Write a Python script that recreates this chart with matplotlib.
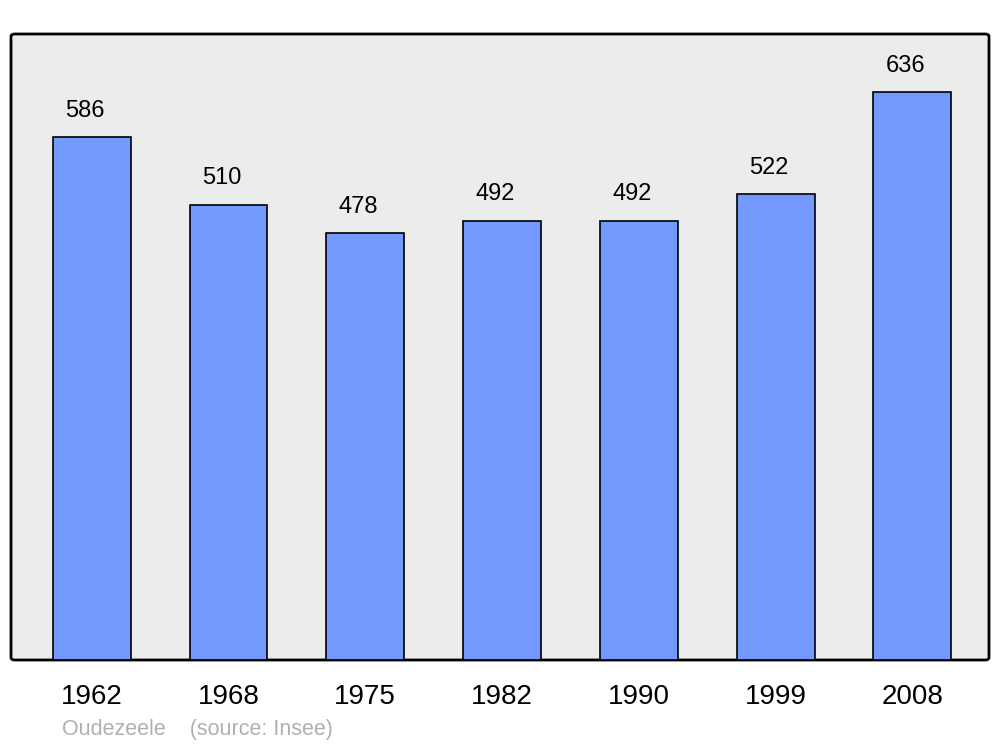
import matplotlib.pyplot as plt
from matplotlib.patches import FancyBboxPatch

years = ['1962', '1968', '1975', '1982', '1990', '1999', '2008']
population = [586, 510, 478, 492, 492, 522, 636]

plt.rcParams['font.family'] = ['Liberation Sans', 'DejaVu Sans']

fig = plt.figure(figsize=(10, 7.47), dpi=100)
ax = fig.add_axes([0.011, 1 - 660 / 747, 0.978, 626 / 747])
ax.set_facecolor('none')

# rounded grey frame
frame = FancyBboxPatch((0, 0), 1, 1, boxstyle='round,pad=0,rounding_size=0.004',
                       transform=ax.transAxes, facecolor='#ececec',
                       edgecolor='black', linewidth=2, zorder=0, clip_on=False)
ax.add_patch(frame)

x = range(len(years))
ax.bar(x, population, width=0.57, color='#7399ff', edgecolor='black',
       linewidth=1.2, zorder=2)

for xi, v in zip(x, population):
    ax.text(xi - 0.05, v + 17, str(v), ha='center', va='bottom', fontsize=17)

ax.set_xlim(-0.59, 6.56)
ax.set_ylim(0, 701)
for s in ax.spines.values():
    s.set_visible(False)
ax.set_yticks([])
ax.set_xticks(list(x))
ax.set_xticklabels(years, fontsize=20)
ax.tick_params(axis='x', length=0, pad=17)

fig.text(0.062, 1 - 730 / 747, 'Oudezeele    (source: Insee)', color='#b0b0b0',
         fontsize=15.5, va='center')

fig.savefig('out.png', dpi=100)
